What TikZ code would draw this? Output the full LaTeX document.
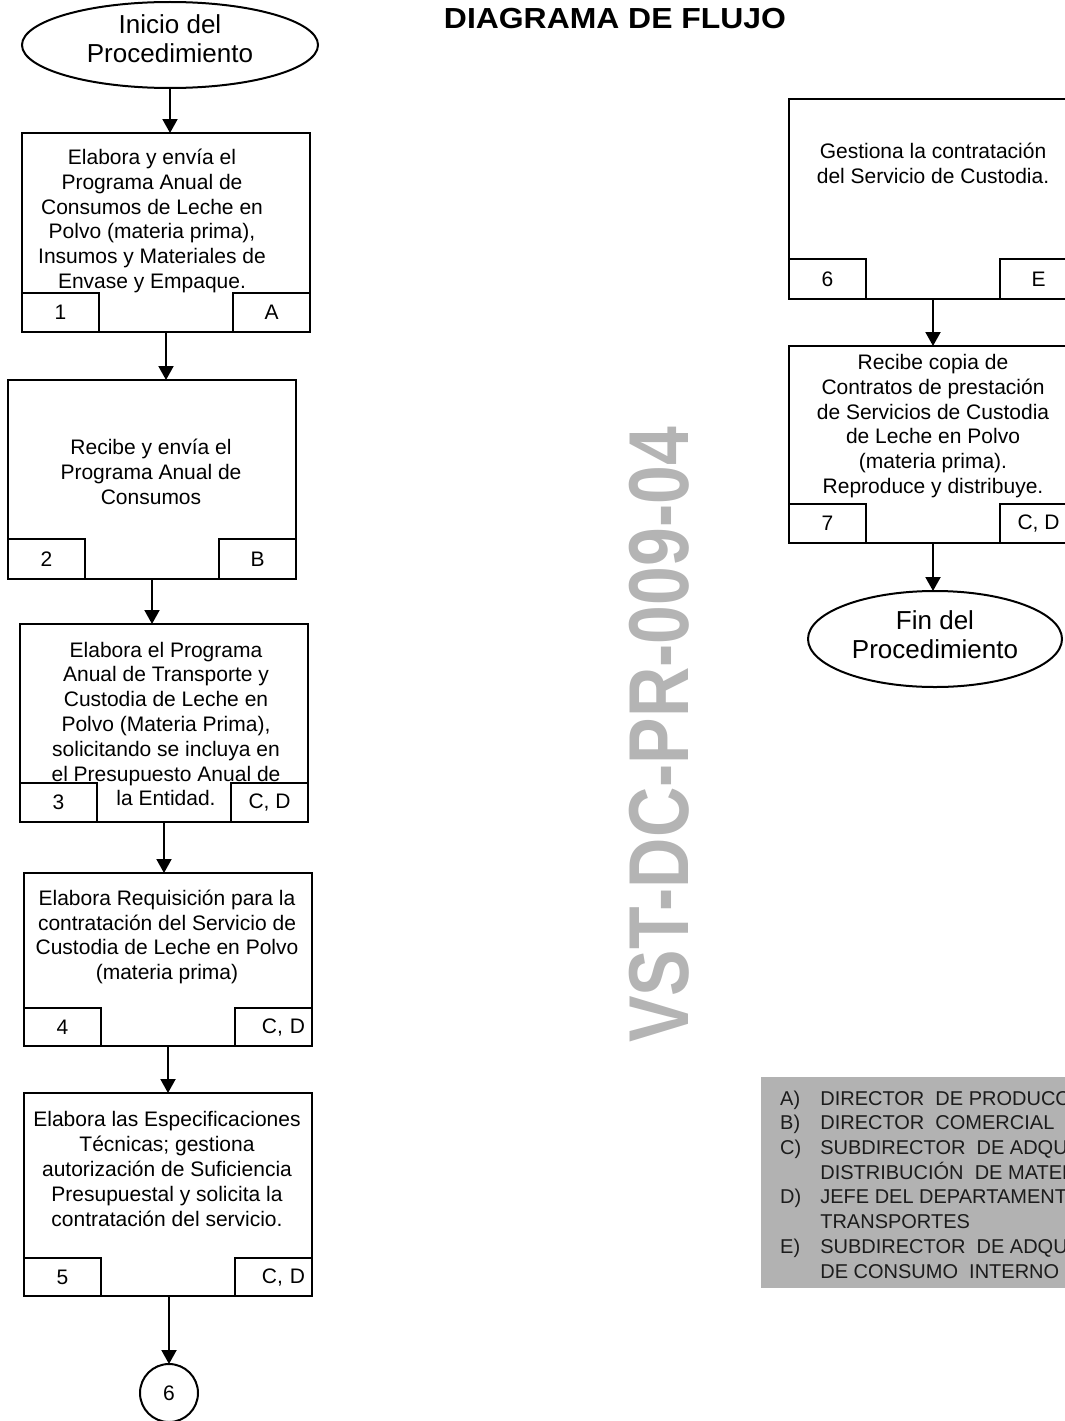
\documentclass[tikz,border=0pt]{standalone}
\usepackage{fontspec}
\setmainfont{Liberation Sans}
\newfontfamily\titlefont{Liberation Sans}[FakeStretch=1.1]
\usetikzlibrary{arrows.meta,shapes.geometric}

\definecolor{markgray}{RGB}{180,180,180}
\definecolor{legendgray}{RGB}{178,178,178}
\definecolor{legendink}{RGB}{28,28,28}

\tikzset{
  stepbox/.style={draw, line width=2pt, rectangle, inner sep=0pt, outer sep=0pt,
    minimum width=288pt, anchor=north west},
  cellbox/.style={draw, line width=2pt, rectangle, inner sep=0pt, outer sep=0pt,
    minimum width=77pt, font=\fontsize{21}{21}\selectfont},
  respright/.style={text width=63pt, align=right},
  steptext/.style={inner sep=0pt, align=center, font=\fontsize{21}{24.8}\selectfont},
  termshape/.style={draw, ellipse, line width=2pt, inner sep=0pt, outer sep=0pt},
  termtext/.style={inner sep=0pt, align=center, font=\fontsize{26}{29}\selectfont},
  flowarrow/.style={line width=2pt, -{Triangle[width=15pt,length=14pt]}},
}

% #1 name, #2 left, #3 top, #4 height, #5 strip height,
% #6 step number, #7 responsible, #8 extra style of the responsible cell
\newcommand{\procstep}[8]{%
  \node[stepbox, minimum height=#4pt] (#1) at (#2,#3) {};
  \node[cellbox, minimum height=#5pt, anchor=south west] (#1-num) at (#1.south west) {#6};
  \node[cellbox, minimum height=#5pt, anchor=south east, #8] (#1-who) at (#1.south east) {#7};
}

\begin{document}
\begin{tikzpicture}[x=1pt,y=-1pt]
\useasboundingbox (0,0) rectangle (1065,1421);
\clip (0,0) rectangle (1065,1421);

% heading
\node[inner sep=0pt, anchor=base, font=\titlefont\bfseries\fontsize{29}{29}\selectfont]
  (title) at (615,29) {DIAGRAMA DE FLUJO};

% document code, rotated
\node[rotate=90, inner sep=0pt, text=markgray, font=\bfseries\fontsize{85}{85}\selectfont]
  (mark) at (659,735) {\scalebox{0.82}[1]{VST-DC-PR-009-04}};

% start terminal
\node[termshape, minimum width=296pt, minimum height=86pt] (start) at (170,45) {};
\node[termtext] (start-text) at (170,39) {Inicio del\\Procedimiento};

% left column of steps
\procstep{b1}{22}{133}{199}{39}{1}{A}{}
\node[steptext] (b1-text) at (152,221) {Elabora y envía el\\Programa Anual de\\Consumos de Leche en\\Polvo (materia prima),\\Insumos y Materiales de\\Envase y Empaque.};

\procstep{b2}{8}{380}{199}{40}{2}{B}{}
\node[steptext] (b2-text) at (151,472) {Recibe y envía el\\Programa Anual de\\Consumos};

\procstep{b3}{20}{624}{198}{39}{3}{C, D}{}
\node[steptext] (b3-text) at (166,724) {Elabora el Programa\\Anual de Transporte y\\Custodia de Leche en\\Polvo (Materia Prima),\\solicitando se incluya en\\el Presupuesto Anual de\\la Entidad.};

\procstep{b4}{24}{873}{173}{38}{4}{C, D}{respright}
\node[steptext] (b4-text) at (167,937) {Elabora Requisición para la\\contratación del Servicio de\\Custodia de Leche en Polvo\\(materia prima)};

\procstep{b5}{24}{1093}{203}{38}{5}{C, D}{respright}
\node[steptext] (b5-text) at (167,1169) {Elabora las Especificaciones\\Técnicas; gestiona\\autorización de Suficiencia\\Presupuestal y solicita la\\contratación del servicio.};

% off-page connector
\node[draw, circle, line width=2pt, minimum size=58pt, inner sep=0pt, outer sep=0pt,
  font=\fontsize{21}{21}\selectfont] (link) at (169,1393) {6};

% right column of steps
\procstep{b6}{789}{99}{200}{40}{6}{E}{}
\node[steptext] (b6-text) at (933,163) {Gestiona la contratación\\del Servicio de Custodia.};

\procstep{b7}{789}{346}{197}{39}{7}{C, D}{}
\node[steptext] (b7-text) at (933,426) {Recibe copia de\\Contratos de prestación\\de Servicios de Custodia\\de Leche en Polvo\\(materia prima).\\Reproduce y distribuye.};

% end terminal
\node[termshape, minimum width=254pt, minimum height=96pt] (end) at (935,639) {};
\node[termtext] (end-text) at (935,635) {Fin del\\Procedimiento};

% flow
\draw[flowarrow] (start.south) -- (start.south |- b1.north);
\draw[flowarrow] (b1.south) -- (b1.south |- b2.north);
\draw[flowarrow] (b2.south) -- (b2.south |- b3.north);
\draw[flowarrow] (b3.south) -- (b3.south |- b4.north);
\draw[flowarrow] (b4.south) -- (b4.south |- b5.north);
\draw[flowarrow] (b5.south -| link) -- (link.north);
\draw[flowarrow] (b6.south) -- (b6.south |- b7.north);
\draw[flowarrow] (b7.south) -- (b7.south |- end.north);

% key of responsible areas
\node[fill=legendgray, inner sep=0pt, outer sep=0pt, minimum width=320pt, minimum height=211pt,
  anchor=north west] (legend) at (761,1077) {};
\node[anchor=base west, inner sep=0pt, text=legendink, font=\fontsize{20}{24.7}\selectfont]
  (legend-text) at (780,1105) {%
  \begin{tabular}[t]{@{}l@{\hspace{19pt}}l@{}}
  A) & DIRECTOR\ \ DE PRODUCCIÓN\\
  B) & DIRECTOR\ \ COMERCIAL\\
  C) & SUBDIRECTOR\ \ DE ADQUISICIÓN Y\\
     & DISTRIBUCIÓN\ \ DE MATERIA PRIMA\\
  D) & JEFE DEL DEPARTAMENTO DE\\
     & TRANSPORTES\\
  E) & SUBDIRECTOR\ \ DE ADQUISICIÓN DE BIENES\\
     & DE CONSUMO\ \ INTERNO
  \end{tabular}};
\end{tikzpicture}
\end{document}
